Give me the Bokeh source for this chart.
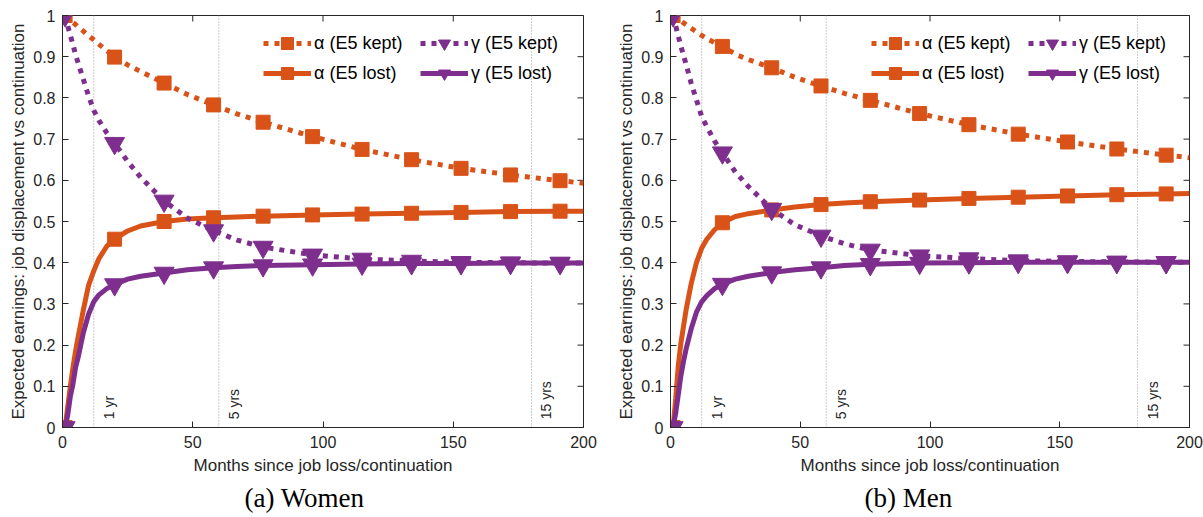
import math

from bokeh.plotting import figure
from bokeh.layouts import row
from bokeh.models import (FixedTicker, Span, Legend, LegendItem, Title,
                          ColumnDataSource, Range1d)
from bokeh.embed import file_html
from bokeh.resources import INLINE
from bokeh.core.properties import value

# ---- data -------------------------------------------------------------
months = [1, 2, 3, 4, 5, 6, 8, 10, 12, 14, 17, 20, 25, 30, 39, 48, 58, 67,
          77, 96, 115, 134, 153, 172, 191, 200]
marker_months = [1, 20, 39, 58, 77, 96, 115, 134, 153, 172, 191]

# Women
women_alpha_kept = [1.000, 0.994, 0.989, 0.983, 0.978, 0.972, 0.962, 0.951,
                    0.941, 0.930, 0.915, 0.899, 0.880, 0.864, 0.836, 0.808,
                    0.783, 0.761, 0.741, 0.706, 0.675, 0.650, 0.629, 0.613,
                    0.599, 0.593]
women_alpha_lost = [0.000, 0.050, 0.100, 0.145, 0.185, 0.220, 0.285, 0.345,
                    0.380, 0.410, 0.440, 0.457, 0.477, 0.489, 0.500, 0.506,
                    0.509, 0.511, 0.513, 0.516, 0.518, 0.520, 0.522, 0.524,
                    0.525, 0.525]
women_gamma_kept = [1.000, 0.975, 0.952, 0.930, 0.905, 0.885, 0.845, 0.805,
                    0.770, 0.745, 0.715, 0.690, 0.646, 0.607, 0.550, 0.508,
                    0.478, 0.455, 0.438, 0.419, 0.409, 0.404, 0.401, 0.400,
                    0.399, 0.399]
women_gamma_lost = [0.000, 0.030, 0.075, 0.105, 0.145, 0.170, 0.230, 0.275,
                    0.305, 0.322, 0.337, 0.347, 0.360, 0.367, 0.375, 0.383,
                    0.388, 0.391, 0.393, 0.395, 0.397, 0.398, 0.398, 0.399,
                    0.399, 0.399]

# Men
men_alpha_kept = [1.000, 0.996, 0.991, 0.987, 0.982, 0.978, 0.969, 0.960,
                  0.952, 0.944, 0.934, 0.925, 0.906, 0.893, 0.873, 0.850,
                  0.829, 0.811, 0.794, 0.762, 0.735, 0.712, 0.693, 0.676,
                  0.661, 0.655]
men_alpha_lost = [0.000, 0.070, 0.150, 0.205, 0.245, 0.285, 0.350, 0.400,
                  0.435, 0.457, 0.480, 0.497, 0.512, 0.519, 0.528, 0.535,
                  0.541, 0.545, 0.548, 0.552, 0.556, 0.559, 0.562, 0.565,
                  0.567, 0.568]
men_gamma_kept = [1.000, 0.975, 0.950, 0.926, 0.903, 0.882, 0.835, 0.795,
                  0.755, 0.730, 0.695, 0.667, 0.620, 0.585, 0.530, 0.492,
                  0.465, 0.446, 0.431, 0.417, 0.410, 0.405, 0.403, 0.402,
                  0.401, 0.401]
men_gamma_lost = [0.000, 0.035, 0.080, 0.125, 0.160, 0.190, 0.240, 0.280,
                  0.305, 0.320, 0.337, 0.348, 0.360, 0.367, 0.376, 0.383,
                  0.388, 0.393, 0.396, 0.399, 0.400, 0.401, 0.401, 0.401,
                  0.401, 0.401]

milestones = [12, 60, 180]
milestone_labels = ["1 yr", "5 yrs", "15 yrs"]

xticks = [0, 50, 100, 150, 200]
yticks = [0, 0.1, 0.2, 0.3, 0.4, 0.5, 0.6, 0.7, 0.8, 0.9, 1]
ytick_labels = ["0", "0.1", "0.2", "0.3", "0.4", "0.5", "0.6", "0.7", "0.8",
                "0.9", "1"]

series_labels = ["α (E5 kept)", "α (E5 lost)", "γ (E5 kept)", "γ (E5 lost)"]

# ---- styling ----------------------------------------------------------
ORANGE = "#D95319"
PURPLE = "#7E2F8E"
INK = "#262626"
SANS = "Liberation Sans"
SERIF = "Liberation Serif"
X_MAX, Y_MAX = 200, 1


def style_axis(ax):
    ax.axis_line_color = INK
    ax.major_tick_line_color = INK
    ax.major_tick_in = 6
    ax.major_tick_out = 0
    ax.minor_tick_in = 0
    ax.minor_tick_out = 0
    ax.major_label_text_font = SANS
    ax.major_label_text_font_size = "16px"
    ax.major_label_text_color = INK
    ax.axis_label_text_font = SANS
    ax.axis_label_text_font_size = "17px"
    ax.axis_label_text_font_style = "normal"
    ax.axis_label_text_color = INK


def make_legend(items, x):
    return Legend(items=items, location=(x, 339), orientation="vertical",
                  label_text_font=SANS, label_text_font_size="18px",
                  label_text_color="black", glyph_width=48, glyph_height=30,
                  label_height=20, label_standoff=3, spacing=0, margin=0,
                  padding=0, border_line_alpha=0, background_fill_alpha=0)


def make_panel(ak, al, gk, gl, caption, caption_offset, width, border_left,
               border_right):
    p = figure(width=width, height=517, output_backend="svg",
               toolbar_location=None,
               x_range=Range1d(0, X_MAX), y_range=Range1d(0, Y_MAX),
               min_border_left=border_left, min_border_right=border_right,
               min_border_top=15, min_border_bottom=90)
    p.grid.visible = False
    p.outline_line_color = INK
    p.background_fill_color = "white"
    p.border_fill_color = "white"

    p.xaxis.ticker = FixedTicker(ticks=xticks)
    p.yaxis.ticker = FixedTicker(ticks=yticks)
    p.yaxis.major_label_overrides = dict(zip(yticks, ytick_labels))
    p.xaxis.axis_label = "Months since job loss/continuation"
    p.yaxis.axis_label = "Expected earnings: job displacement vs continuation"
    style_axis(p.xaxis[0])
    style_axis(p.yaxis[0])
    p.xaxis.major_label_standoff = 8
    p.xaxis.axis_label_standoff = 5
    p.yaxis.major_label_standoff = 7
    p.yaxis.axis_label_standoff = 2

    # inward ticks mirrored on the top and right edges of the box
    p.scatter(x=xticks, y=[Y_MAX] * len(xticks), marker="dash", size=12,
              angle=math.pi / 2, line_color=INK, line_width=1)
    p.scatter(x=[X_MAX] * len(yticks), y=yticks, marker="dash", size=12,
              line_color=INK, line_width=1)

    # milestone guides
    for m in milestones:
        p.add_layout(Span(location=m, dimension="height", line_color="#9a9a9a",
                          line_width=1, line_dash="1 2", level="underlay"))
    p.text(x=milestones, y=[0.02] * len(milestones), text=milestone_labels,
           angle=math.pi / 2, text_align="left", text_baseline="top",
           x_offset=7, text_font=value(SANS), text_font_size="14px",
           text_color=INK)

    src = ColumnDataSource(dict(m=months, ak=ak, al=al, gk=gk, gl=gl))
    idx = [months.index(m) for m in marker_months]
    msrc = ColumnDataSource(dict(m=[months[i] for i in idx],
                                 ak=[ak[i] for i in idx],
                                 al=[al[i] for i in idx],
                                 gk=[gk[i] for i in idx],
                                 gl=[gl[i] for i in idx]))

    specs = [("ak", ORANGE, "5 6", "square", 14),
             ("al", ORANGE, "solid", "square", 14),
             ("gk", PURPLE, "5 6", "inverted_triangle", 20),
             ("gl", PURPLE, "solid", "inverted_triangle", 20)]
    items = []
    for (col, color, dash, marker, size), label in zip(specs, series_labels):
        lr = p.line("m", col, source=src, line_color=color, line_width=5,
                    line_dash=dash)
        sr = p.scatter("m", col, source=msrc, marker=marker, size=size,
                       fill_color=color, line_color=color)
        items.append(LegendItem(label=label, renderers=[lr, sr]))

    # two legend columns: alpha on the left, gamma on the right
    p.add_layout(make_legend(items[:2], 201))
    p.add_layout(make_legend(items[2:], 358))

    p.add_layout(Title(text=caption, align="left", offset=caption_offset,
                       text_font=SERIF, text_font_size="27px",
                       text_font_style="normal", text_color="black",
                       standoff=6), "below")
    return p


women = make_panel(women_alpha_kept, women_alpha_lost, women_gamma_kept,
                   women_gamma_lost, "(a) Women", 182, 600, 62, 17)
men = make_panel(men_alpha_kept, men_alpha_lost, men_gamma_kept,
                 men_gamma_lost, "(b) Men", 194, 603, 70, 14)

layout = row(women, men)
open("out.html", "w").write(file_html(layout, INLINE))
